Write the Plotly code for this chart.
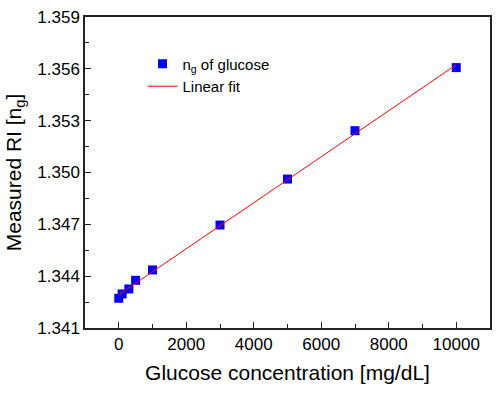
import numpy as np
import plotly.graph_objects as go

conc = [0, 100, 300, 500, 1000, 3000, 5000, 7000, 10000]
ri = [1.34272, 1.34297, 1.34326, 1.34376, 1.34436, 1.34696, 1.34962, 1.35242, 1.35607]

x_ticks = [0, 2000, 4000, 6000, 8000, 10000]
y_ticks = [1.341, 1.344, 1.347, 1.350, 1.353, 1.356, 1.359]

slope, intercept = np.polyfit(conc, ri, 1)
fit_x = [min(conc), max(conc)]
fit_y = [slope * v + intercept for v in fit_x]

FONT = "Arial, 'Liberation Sans', sans-serif"

fig = go.Figure()
fig.add_trace(go.Scatter(
    x=conc, y=ri, mode="markers", name="n<sub>g</sub> of glucose",
    marker=dict(symbol="square", size=9, color="#0000FF", line=dict(width=0)),
))
fig.add_trace(go.Scatter(
    x=fit_x, y=fit_y, mode="lines", name="Linear fit",
    line=dict(color="#FF0000", width=1),
))

axis_common = dict(
    showgrid=False, zeroline=False, showline=True, linecolor="#222222", linewidth=1.5,
    mirror=True, ticks="inside", ticklen=6, tickwidth=1.2, tickcolor="#222222",
    tickfont=dict(family=FONT, size=17, color="#000000"), automargin=False,
)

fig.update_xaxes(
    range=[-1000, 11000], tickvals=x_ticks, ticktext=[str(v) for v in x_ticks],
    title=dict(text="Glucose concentration [mg/dL]", font=dict(family=FONT, size=21, color="#000"), standoff=12),
    minor=dict(ticks="inside", dtick=1000, tick0=0, ticklen=4, tickwidth=1.2, tickcolor="#222222"),
    **axis_common,
)
fig.update_yaxes(
    range=[1.341, 1.359], tickvals=y_ticks, ticktext=["%.3f" % v for v in y_ticks],
    title=dict(text="Measured RI [n<sub>g</sub>]", font=dict(family=FONT, size=21, color="#000"), standoff=10),
    minor=dict(ticks="inside", dtick=0.0015, tick0=1.341, ticklen=4, tickwidth=1.2, tickcolor="#222222"),
    **axis_common,
)

fig.update_layout(
    width=500, height=394,
    margin=dict(l=85, r=10, t=17, b=66),
    paper_bgcolor="white", plot_bgcolor="white",
    font=dict(family=FONT, color="#000"),
    showlegend=True,
    legend=dict(x=0.142, y=0.902, xanchor="left", yanchor="top",
                bgcolor="rgba(0,0,0,0)", font=dict(family=FONT, size=15, color="#000"),
                itemwidth=30, tracegroupgap=0),
)

fig.write_html("out.html", config={"displayModeBar": False},
               post_script="document.body.style.margin='0';")
